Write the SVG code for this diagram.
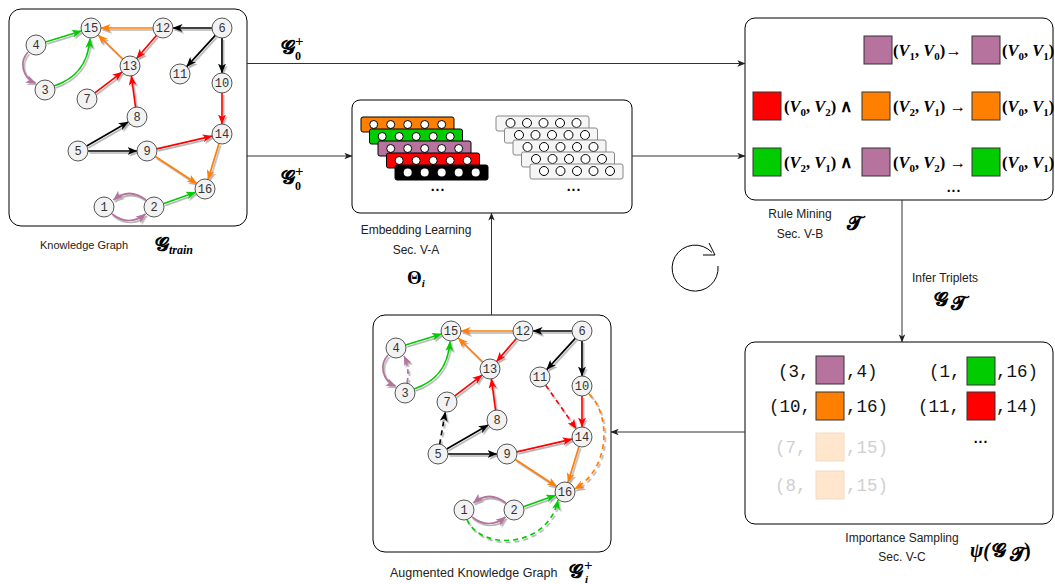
<svg xmlns="http://www.w3.org/2000/svg" width="1055" height="584" viewBox="0 0 1055 584">
<defs>
<style>
.box{fill:#fff;stroke:#000;stroke-width:1}
.nd circle{fill:#f2f2f2;stroke:#555;stroke-width:1}
.nd text{font-family:"Liberation Mono",monospace;font-size:12px;fill:#333;text-anchor:middle}
.e{fill:none;stroke-width:1.7}
.k{stroke:#000}.o{stroke:#FF8000}.g{stroke:#00CC00}.p{stroke:#B5739D}.r{stroke:#FF0000}
.d{stroke-dasharray:5 4}
.conn{fill:none;stroke:#333;stroke-width:1}
.lbl{font-family:"Liberation Sans",Arial,sans-serif;font-size:12px;fill:#222}
.m{font-family:"Liberation Serif",serif;font-weight:bold;fill:#000}
.it{font-style:italic}
.sb{font-size:11px}
.sc{font-family:"DejaVu Serif","DejaVu Sans","Noto Sans",serif;font-weight:bold;font-size:20px;fill:#000}
.sq{stroke:#333;stroke-width:1}
.tt{font-family:"Liberation Mono",monospace;font-size:17.5px;fill:#111}
.fd{fill:#cfcfcf}
.pe{fill:#FFE6CC;stroke:#f0dcc6;stroke-width:1}
.cb{stroke:#000;stroke-width:1}
.wb{fill:#f5f5f5;stroke:#888;stroke-width:1}
.wc{fill:#fff;stroke:#000;stroke-width:1}
.dots{font-family:"Liberation Sans",sans-serif;font-weight:bold;font-size:14px;fill:#000;text-anchor:middle;letter-spacing:1px}
</style>
<marker id="ak" viewBox="0 0 10 8" refX="9.5" refY="4" markerWidth="10" markerHeight="8" markerUnits="userSpaceOnUse" orient="auto"><path d="M0,0 L10,4 L0,8 L2.5,4 z" fill="#000"/></marker>
<marker id="ao" viewBox="0 0 10 8" refX="9.5" refY="4" markerWidth="10" markerHeight="8" markerUnits="userSpaceOnUse" orient="auto"><path d="M0,0 L10,4 L0,8 L2.5,4 z" fill="#FF8000"/></marker>
<marker id="ag" viewBox="0 0 10 8" refX="9.5" refY="4" markerWidth="10" markerHeight="8" markerUnits="userSpaceOnUse" orient="auto"><path d="M0,0 L10,4 L0,8 L2.5,4 z" fill="#00CC00"/></marker>
<marker id="ap" viewBox="0 0 10 8" refX="9.5" refY="4" markerWidth="10" markerHeight="8" markerUnits="userSpaceOnUse" orient="auto"><path d="M0,0 L10,4 L0,8 L2.5,4 z" fill="#B5739D"/></marker>
<marker id="ar" viewBox="0 0 10 8" refX="9.5" refY="4" markerWidth="10" markerHeight="8" markerUnits="userSpaceOnUse" orient="auto"><path d="M0,0 L10,4 L0,8 L2.5,4 z" fill="#FF0000"/></marker>
<marker id="ac" viewBox="0 0 10 8" refX="9.5" refY="4" markerWidth="8" markerHeight="6.4" markerUnits="userSpaceOnUse" orient="auto"><path d="M0,0 L10,4 L0,8 L2.5,4 z" fill="#222"/></marker>
<filter id="sh" filterUnits="userSpaceOnUse" x="0" y="0" width="1055" height="584"><feDropShadow dx="1.5" dy="2" stdDeviation="0.5" flood-color="#777" flood-opacity="0.55"/></filter>
</defs>
<rect width="1055" height="584" fill="#fff"/>

<!-- Knowledge graph (train) -->
<g id="kg">
<rect class="box" x="9" y="9" width="238" height="217" rx="12"/>
<g id="kg-edges" filter="url(#sh)">
<path class="e o" d="M153,28 L101,28" marker-end="url(#ao)"/>
<path class="e k" d="M212,28 L173,28" marker-end="url(#ak)"/>
<path class="e k" d="M215.3,35.4 L186.7,66.6" marker-end="url(#ak)"/>
<path class="e k" d="M222,38 L222,73" marker-end="url(#ak)"/>
<path class="e r" d="M156.4,35.5 L136.6,58.5" marker-end="url(#ar)"/>
<path class="e o" d="M122.8,59 L98.2,35" marker-end="url(#ao)"/>
<path class="e g" d="M45.6,42 L81.5,31" marker-end="url(#ag)"/>
<path class="e p" d="M28,52 C19,62 22,77 35.5,83" marker-end="url(#ap)"/>
<path class="e g" d="M54,86 C72,80 88,68 90,38.5" marker-end="url(#ag)"/>
<path class="e r" d="M94.9,92.9 L122.1,72.1" marker-end="url(#ar)"/>
<path class="e r" d="M135.6,107.1 L131.4,75.9" marker-end="url(#ar)"/>
<path class="e k" d="M86.7,146 L128.3,122" marker-end="url(#ak)"/>
<path class="e k" d="M88,151 L137,151" marker-end="url(#ak)"/>
<path class="e r" d="M222,93 L222,124" marker-end="url(#ar)"/>
<path class="e r" d="M156.8,148.8 L212.2,136.2" marker-end="url(#ar)"/>
<path class="e o" d="M155.4,156.5 L196.6,183.5" marker-end="url(#ao)"/>
<path class="e o" d="M219,143.6 L208,179.5" marker-end="url(#ao)"/>
<path class="e g" d="M163.4,203.7 L195.6,192.3" marker-end="url(#ag)"/>
<path class="e p" d="M146,200 Q129,187 113.5,200" marker-end="url(#ap)"/>
<path class="e p" d="M112,214 Q129,227 145.5,214" marker-end="url(#ap)"/>
</g>
<g id="kg-n15" class="nd"><circle cx="91" cy="28" r="10"/><text x="91" y="32">15</text></g>
<g id="kg-n12" class="nd"><circle cx="163" cy="28" r="10"/><text x="163" y="32">12</text></g>
<g id="kg-n6" class="nd"><circle cx="222" cy="28" r="10"/><text x="222" y="32">6</text></g>
<g id="kg-n4" class="nd"><circle cx="36" cy="45" r="10"/><text x="36" y="49">4</text></g>
<g id="kg-n13" class="nd"><circle cx="130" cy="66" r="10"/><text x="130" y="70">13</text></g>
<g id="kg-n11" class="nd"><circle cx="180" cy="74" r="10"/><text x="180" y="78">11</text></g>
<g id="kg-n10" class="nd"><circle cx="222" cy="83" r="10"/><text x="222" y="87">10</text></g>
<g id="kg-n3" class="nd"><circle cx="45" cy="90" r="10"/><text x="45" y="94">3</text></g>
<g id="kg-n7" class="nd"><circle cx="87" cy="99" r="10"/><text x="87" y="103">7</text></g>
<g id="kg-n8" class="nd"><circle cx="137" cy="117" r="10"/><text x="137" y="121">8</text></g>
<g id="kg-n14" class="nd"><circle cx="222" cy="134" r="10"/><text x="222" y="138">14</text></g>
<g id="kg-n5" class="nd"><circle cx="78" cy="151" r="10"/><text x="78" y="155">5</text></g>
<g id="kg-n9" class="nd"><circle cx="147" cy="151" r="10"/><text x="147" y="155">9</text></g>
<g id="kg-n16" class="nd"><circle cx="205" cy="189" r="10"/><text x="205" y="193">16</text></g>
<g id="kg-n1" class="nd"><circle cx="104" cy="207" r="10"/><text x="104" y="211">1</text></g>
<g id="kg-n2" class="nd"><circle cx="154" cy="207" r="10"/><text x="154" y="211">2</text></g>
<text class="lbl" x="40" y="249" style="font-size:11px">Knowledge Graph</text>
<text class="sc" x="155" y="251">𝓖</text><text class="m it" x="169" y="254" font-size="12">train</text>
</g>

<!-- Embedding learning -->
<g id="embed">
<rect class="box" x="352" y="100" width="280" height="113" rx="8"/>
<rect class="cb" x="361" y="117" width="93" height="15" rx="2" fill="#FF8000"/>
<g class="wc"><circle cx="373.7" cy="124.5" r="4"/><circle cx="390.7" cy="124.5" r="4"/><circle cx="407.7" cy="124.5" r="4"/><circle cx="424.7" cy="124.5" r="4"/><circle cx="441.7" cy="124.5" r="4"/></g>
<rect class="cb" x="369.5" y="129" width="93" height="15" rx="2" fill="#00CC00"/>
<g class="wc"><circle cx="382.2" cy="136.5" r="4"/><circle cx="399.2" cy="136.5" r="4"/><circle cx="416.2" cy="136.5" r="4"/><circle cx="433.2" cy="136.5" r="4"/><circle cx="450.2" cy="136.5" r="4"/></g>
<rect class="cb" x="378" y="141" width="93" height="15" rx="2" fill="#B5739D"/>
<g class="wc"><circle cx="390.7" cy="148.5" r="4"/><circle cx="407.7" cy="148.5" r="4"/><circle cx="424.7" cy="148.5" r="4"/><circle cx="441.7" cy="148.5" r="4"/><circle cx="458.7" cy="148.5" r="4"/></g>
<rect class="cb" x="386.5" y="153" width="93" height="15" rx="2" fill="#FF0000"/>
<g class="wc"><circle cx="399.2" cy="160.5" r="4"/><circle cx="416.2" cy="160.5" r="4"/><circle cx="433.2" cy="160.5" r="4"/><circle cx="450.2" cy="160.5" r="4"/><circle cx="467.2" cy="160.5" r="4"/></g>
<rect class="cb" x="395" y="165" width="93" height="15" rx="2" fill="#000"/>
<g fill="#fff"><circle cx="407.7" cy="172.5" r="4"/><circle cx="424.7" cy="172.5" r="4"/><circle cx="441.7" cy="172.5" r="4"/><circle cx="458.7" cy="172.5" r="4"/><circle cx="475.7" cy="172.5" r="4"/></g>
<text class="dots" x="438" y="191">...</text>
<rect class="wb" x="496" y="116" width="93" height="15" rx="2"/>
<g class="wc"><circle cx="510.5" cy="123" r="4.5"/><circle cx="527" cy="123" r="4.5"/><circle cx="543.5" cy="123" r="4.5"/><circle cx="560" cy="123" r="4.5"/><circle cx="576.5" cy="123" r="4.5"/></g>
<rect class="wb" x="504.5" y="128" width="93" height="15" rx="2"/>
<g class="wc"><circle cx="519" cy="135" r="4.5"/><circle cx="535.5" cy="135" r="4.5"/><circle cx="552" cy="135" r="4.5"/><circle cx="568.5" cy="135" r="4.5"/><circle cx="585" cy="135" r="4.5"/></g>
<rect class="wb" x="513" y="140" width="93" height="15" rx="2"/>
<g class="wc"><circle cx="527.5" cy="147" r="4.5"/><circle cx="544" cy="147" r="4.5"/><circle cx="560.5" cy="147" r="4.5"/><circle cx="577" cy="147" r="4.5"/><circle cx="593.5" cy="147" r="4.5"/></g>
<rect class="wb" x="521.5" y="152" width="93" height="15" rx="2"/>
<g class="wc"><circle cx="536" cy="159" r="4.5"/><circle cx="552.5" cy="159" r="4.5"/><circle cx="569" cy="159" r="4.5"/><circle cx="585.5" cy="159" r="4.5"/><circle cx="602" cy="159" r="4.5"/></g>
<rect class="wb" x="530" y="164" width="93" height="15" rx="2"/>
<g class="wc"><circle cx="544" cy="171" r="4.5"/><circle cx="560.5" cy="171" r="4.5"/><circle cx="577" cy="171" r="4.5"/><circle cx="593.5" cy="171" r="4.5"/><circle cx="610" cy="171" r="4.5"/></g>
<text class="dots" x="574" y="191">...</text>
<text class="lbl" x="416" y="234" text-anchor="middle">Embedding Learning</text>
<text class="lbl" x="416" y="254" text-anchor="middle">Sec. V-A</text>
<text class="m" x="407" y="284" font-size="19">Θ<tspan class="it" font-size="11" dy="3">i</tspan></text>
</g>

<!-- Rule mining -->
<g id="rules">
<rect class="box" x="745" y="18" width="308" height="182" rx="10"/>
<rect class="sq" x="864" y="36" width="28" height="28" fill="#B5739D"/>
<text class="m" x="893" y="56" font-size="16.5">(<tspan class="it">V</tspan><tspan class="sb" dy="4">1</tspan><tspan dy="-4">, </tspan><tspan class="it">V</tspan><tspan class="sb" dy="4">0</tspan><tspan dy="-4">)→</tspan></text>
<rect class="sq" x="972" y="36" width="28" height="28" fill="#B5739D"/>
<text class="m" x="1002" y="56" font-size="16.5">(<tspan class="it">V</tspan><tspan class="sb" dy="4">0</tspan><tspan dy="-4">, </tspan><tspan class="it">V</tspan><tspan class="sb" dy="4">1</tspan><tspan dy="-4">)</tspan></text>
<rect class="sq" x="753" y="92" width="28" height="28" fill="#FF0000"/>
<text class="m" x="784" y="112" font-size="16.5">(<tspan class="it">V</tspan><tspan class="sb" dy="4">0</tspan><tspan dy="-4">, </tspan><tspan class="it">V</tspan><tspan class="sb" dy="4">2</tspan><tspan dy="-4">) ∧</tspan></text>
<rect class="sq" x="862" y="92" width="28" height="28" fill="#FF8000"/>
<text class="m" x="893" y="112" font-size="16.5">(<tspan class="it">V</tspan><tspan class="sb" dy="4">2</tspan><tspan dy="-4">, </tspan><tspan class="it">V</tspan><tspan class="sb" dy="4">1</tspan><tspan dy="-4">) →</tspan></text>
<rect class="sq" x="972" y="92" width="28" height="28" fill="#FF8000"/>
<text class="m" x="1002" y="112" font-size="16.5">(<tspan class="it">V</tspan><tspan class="sb" dy="4">0</tspan><tspan dy="-4">, </tspan><tspan class="it">V</tspan><tspan class="sb" dy="4">1</tspan><tspan dy="-4">)</tspan></text>
<rect class="sq" x="753" y="148" width="28" height="28" fill="#00CC00"/>
<text class="m" x="784" y="168" font-size="16.5">(<tspan class="it">V</tspan><tspan class="sb" dy="4">2</tspan><tspan dy="-4">, </tspan><tspan class="it">V</tspan><tspan class="sb" dy="4">1</tspan><tspan dy="-4">) ∧</tspan></text>
<rect class="sq" x="862" y="148" width="28" height="28" fill="#B5739D"/>
<text class="m" x="893" y="168" font-size="16.5">(<tspan class="it">V</tspan><tspan class="sb" dy="4">0</tspan><tspan dy="-4">, </tspan><tspan class="it">V</tspan><tspan class="sb" dy="4">2</tspan><tspan dy="-4">) →</tspan></text>
<rect class="sq" x="972" y="148" width="28" height="28" fill="#00CC00"/>
<text class="m" x="1002" y="168" font-size="16.5">(<tspan class="it">V</tspan><tspan class="sb" dy="4">0</tspan><tspan dy="-4">, </tspan><tspan class="it">V</tspan><tspan class="sb" dy="4">1</tspan><tspan dy="-4">)</tspan></text>
<text class="dots" x="954" y="192">...</text>
<text class="lbl" x="800" y="218" text-anchor="middle">Rule Mining</text>
<text class="lbl" x="800" y="238" text-anchor="middle">Sec. V-B</text>
<text class="sc" x="847" y="230">𝓣</text>
</g>

<!-- Importance sampling -->
<g id="sampling">
<rect class="box" x="745" y="342" width="308" height="182" rx="10"/>
<text class="tt" x="778" y="377">(3,</text><rect class="sq" x="816" y="356" width="28" height="28" fill="#B5739D"/><text class="tt" x="846" y="377">,4)</text>
<text class="tt" x="929" y="377">(1,</text><rect class="sq" x="967" y="357" width="28" height="28" fill="#00CC00"/><text class="tt" x="996" y="377">,16)</text>
<text class="tt" x="769" y="412">(10,</text><rect class="sq" x="816" y="392" width="28" height="28" fill="#FF8000"/><text class="tt" x="846" y="412">,16)</text>
<text class="tt" x="918" y="412">(11,</text><rect class="sq" x="967" y="392" width="28" height="28" fill="#FF0000"/><text class="tt" x="996" y="412">,14)</text>
<text class="tt fd" x="775" y="453">(7,</text><rect class="pe" x="816" y="433" width="28" height="28"/><text class="tt fd" x="846" y="453">,15)</text>
<text class="tt fd" x="775" y="491">(8,</text><rect class="pe" x="816" y="471" width="28" height="28"/><text class="tt fd" x="846" y="491">,15)</text>
<text class="dots" x="981" y="443">...</text>
<text class="lbl" x="902" y="542" text-anchor="middle">Importance Sampling</text>
<text class="lbl" x="902" y="561" text-anchor="middle">Sec. V-C</text>
<text class="m it" x="970" y="557" font-size="20">ψ(</text><text class="sc" x="992" y="557">𝓖</text><text class="sc" x="1010" y="561" font-size="12">𝓣</text><text class="m" x="1024" y="557" font-size="20">)</text>
</g>

<!-- Augmented knowledge graph -->
<g id="aug">
<rect class="box" x="373" y="315" width="238" height="237" rx="12"/>
<g transform="translate(360,303)">
<g id="aug-edges" filter="url(#sh)">
<path class="e o" d="M153,28 L101,28" marker-end="url(#ao)"/>
<path class="e k" d="M212,28 L173,28" marker-end="url(#ak)"/>
<path class="e k" d="M215.3,35.4 L186.7,66.6" marker-end="url(#ak)"/>
<path class="e k" d="M222,38 L222,73" marker-end="url(#ak)"/>
<path class="e r" d="M156.4,35.5 L136.6,58.5" marker-end="url(#ar)"/>
<path class="e o" d="M122.8,59 L98.2,35" marker-end="url(#ao)"/>
<path class="e g" d="M45.6,42 L81.5,31" marker-end="url(#ag)"/>
<path class="e p" d="M28,52 C19,62 22,77 35.5,83" marker-end="url(#ap)"/>
<path class="e g" d="M54,86 C72,80 88,68 90,38.5" marker-end="url(#ag)"/>
<path class="e r" d="M94.9,92.9 L122.1,72.1" marker-end="url(#ar)"/>
<path class="e r" d="M135.6,107.1 L131.4,75.9" marker-end="url(#ar)"/>
<path class="e k" d="M86.7,146 L128.3,122" marker-end="url(#ak)"/>
<path class="e k" d="M88,151 L137,151" marker-end="url(#ak)"/>
<path class="e r" d="M222,93 L222,124" marker-end="url(#ar)"/>
<path class="e r" d="M156.8,148.8 L212.2,136.2" marker-end="url(#ar)"/>
<path class="e o" d="M155.4,156.5 L196.6,183.5" marker-end="url(#ao)"/>
<path class="e o" d="M219,143.6 L208,179.5" marker-end="url(#ao)"/>
<path class="e g" d="M163.4,203.7 L195.6,192.3" marker-end="url(#ag)"/>
<path class="e p" d="M146,200 Q129,187 113.5,200" marker-end="url(#ap)"/>
<path class="e p" d="M112,214 Q129,227 145.5,214" marker-end="url(#ap)"/>
<path class="e p d" d="M47,80 Q50,66 44,53" marker-end="url(#ap)"/>
<path class="e k d" d="M79.7,141.2 L85.3,108.9" marker-end="url(#ak)"/>
<path class="e r d" d="M185.7,82.2 L216.3,125.8" marker-end="url(#ar)"/>
<path class="e o d" d="M229,91 C250,110 252,165 214.5,186" marker-end="url(#ao)"/>
<path class="e g d" d="M107,216.5 C120,248 188,246 198,197" marker-end="url(#ag)"/>
</g>
<g id="aug-n15" class="nd"><circle cx="91" cy="28" r="10"/><text x="91" y="32">15</text></g>
<g id="aug-n12" class="nd"><circle cx="163" cy="28" r="10"/><text x="163" y="32">12</text></g>
<g id="aug-n6" class="nd"><circle cx="222" cy="28" r="10"/><text x="222" y="32">6</text></g>
<g id="aug-n4" class="nd"><circle cx="36" cy="45" r="10"/><text x="36" y="49">4</text></g>
<g id="aug-n13" class="nd"><circle cx="130" cy="66" r="10"/><text x="130" y="70">13</text></g>
<g id="aug-n11" class="nd"><circle cx="180" cy="74" r="10"/><text x="180" y="78">11</text></g>
<g id="aug-n10" class="nd"><circle cx="222" cy="83" r="10"/><text x="222" y="87">10</text></g>
<g id="aug-n3" class="nd"><circle cx="45" cy="90" r="10"/><text x="45" y="94">3</text></g>
<g id="aug-n7" class="nd"><circle cx="87" cy="99" r="10"/><text x="87" y="103">7</text></g>
<g id="aug-n8" class="nd"><circle cx="137" cy="117" r="10"/><text x="137" y="121">8</text></g>
<g id="aug-n14" class="nd"><circle cx="222" cy="134" r="10"/><text x="222" y="138">14</text></g>
<g id="aug-n5" class="nd"><circle cx="78" cy="151" r="10"/><text x="78" y="155">5</text></g>
<g id="aug-n9" class="nd"><circle cx="147" cy="151" r="10"/><text x="147" y="155">9</text></g>
<g id="aug-n16" class="nd"><circle cx="205" cy="189" r="10"/><text x="205" y="193">16</text></g>
<g id="aug-n1" class="nd"><circle cx="104" cy="207" r="10"/><text x="104" y="211">1</text></g>
<g id="aug-n2" class="nd"><circle cx="154" cy="207" r="10"/><text x="154" y="211">2</text></g>
</g>
<text class="lbl" x="390" y="577" style="font-size:12.5px">Augmented Knowledge Graph</text>
<text class="sc" x="569" y="578">𝓖</text><text class="m" x="584" y="570" font-size="15">+</text><text class="m it" x="585" y="583" font-size="11">i</text>
</g>

<!-- Connectors -->
<g id="connectors">
<path class="conn" d="M247,63.5 H745" marker-end="url(#ac)"/>
<path class="conn" d="M247,156 H352" marker-end="url(#ac)"/>
<path class="conn" d="M632,156 H745" marker-end="url(#ac)"/>
<path class="conn" d="M491.5,315 V213" marker-end="url(#ac)"/>
<path class="conn" d="M902,200 V342" marker-end="url(#ac)"/>
<path class="conn" d="M745,432 H611" marker-end="url(#ac)"/>
<text class="sc" x="281" y="54">𝓖</text><text class="m" x="295" y="46" font-size="15">+</text><text class="m" x="295" y="60" font-size="12">0</text>
<text class="sc" x="281" y="184">𝓖</text><text class="m" x="295" y="176" font-size="15">+</text><text class="m" x="295" y="190" font-size="12">0</text>
<text class="lbl" x="912" y="282">Infer Triplets</text>
<text class="sc" x="934" y="306">𝓖</text><text class="sc" x="951" y="310" font-size="12">𝓣</text>
</g>

<!-- Iteration symbol -->
<g id="cycle" fill="none" stroke="#000" stroke-width="1">
<path d="M718,266 A23,23 0 1 1 712,252.5"/>
<polyline points="703,255 715,255 709,243"/>
</g>
</svg>
